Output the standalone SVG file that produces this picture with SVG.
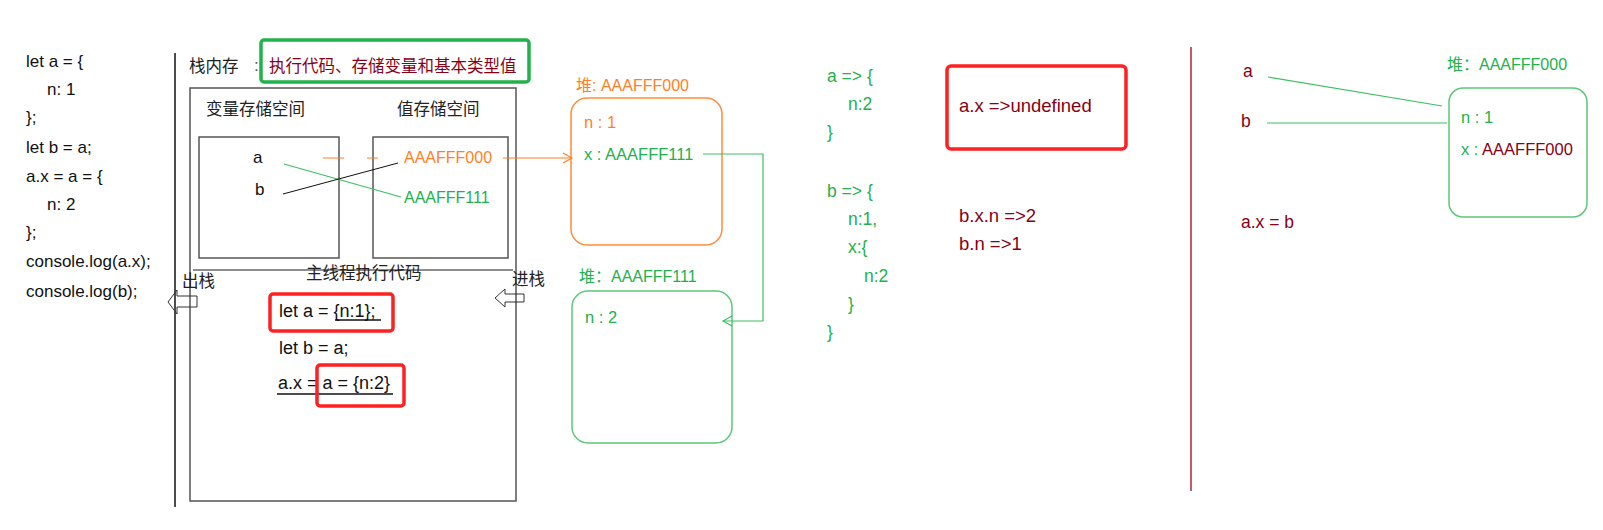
<svg xmlns="http://www.w3.org/2000/svg" width="1603" height="530" viewBox="0 0 1603 530">
<style>
text{font-family:"Liberation Sans","Noto Sans CJK SC",sans-serif;font-size:17px;fill:#111}
.cn{font-family:"Noto Sans CJK SC","Liberation Sans",sans-serif;font-size:16.5px;fill:#222}
.or{fill:#ff7f27}
.gr{fill:#22b14c}
.dr{fill:#880015}
.addr{font-size:16px}
.heap{font-size:16.5px}
.res{font-size:17.5px}
.ans{font-size:18.5px}
.code{font-size:18px}
.box{fill:none;stroke:#555;stroke-width:1.5}
.red{fill:none;stroke:#ff2020;stroke-width:3.5}
.heapO{fill:none;stroke:#ff8c3a;stroke-width:1.5}
.heapG{fill:none;stroke:#5cc878;stroke-width:1.5}
.gline{stroke:#3cbf60;stroke-width:1.2;fill:none}
.uline{stroke:#111;stroke-width:1.3}
</style>
<defs>
<marker id="openO" markerWidth="12" markerHeight="12" refX="10" refY="6" orient="auto" markerUnits="userSpaceOnUse">
<path d="M1,1 L10,6 L1,11" fill="none" stroke="#ff7f27" stroke-width="1.2"/>
</marker>
<marker id="openG" markerWidth="12" markerHeight="12" refX="10" refY="6" orient="auto" markerUnits="userSpaceOnUse">
<path d="M1,1 L10,6 L1,11" fill="none" stroke="#3cbf60" stroke-width="1.2"/>
</marker>
</defs>

<g id="source-code">
<text x="26" y="67">let a = {</text>
<text x="47" y="95">n: 1</text>
<text x="26" y="123">};</text>
<text x="26" y="153">let b = a;</text>
<text x="26" y="182">a.x = a = {</text>
<text x="47" y="210">n: 2</text>
<text x="26" y="238">};</text>
<text x="26" y="267">console.log(a.x);</text>
<text x="26" y="297">console.log(b);</text>
</g>

<g id="divider-left">
<line x1="175" y1="53" x2="175" y2="507" stroke="#111" stroke-width="1.5"/>
</g>

<g id="stack-memory">
<text class="cn" x="189" y="72">栈内存</text>
<text x="254" y="71" style="fill:#555">:</text>
<rect x="261" y="40" width="268" height="42" rx="3" fill="#fff" stroke="#22b14c" stroke-width="3.5"/>
<text class="cn" x="269" y="72" style="fill:#880015">执行代码、存储变量和基本类型值</text>
<rect class="box" x="190" y="88" width="326" height="413"/>
<text class="cn" x="206" y="115">变量存储空间</text>
<text class="cn" x="397" y="115">值存储空间</text>
</g>

<g id="var-space">
<rect class="box" x="199" y="137" width="140" height="121"/>
<text x="253" y="163">a</text>
<text x="255" y="195">b</text>
</g>

<g id="value-space">
<rect class="box" x="373" y="137" width="135" height="121"/>
<text class="or addr" x="404" y="163">AAAFFF000</text>
<text class="gr addr" x="404" y="203">AAAFFF111</text>
</g>

<g id="main-thread">
<line x1="193" y1="270" x2="513" y2="270" stroke="#666" stroke-width="1.5"/>
<text class="cn" x="306" y="279">主线程执行代码</text>
<text class="cn" x="182" y="287">出栈</text>
<polygon points="168,302 177,290 177,296 197,296 197,307 177,307 177,314" fill="none" stroke="#333" stroke-width="1"/>
<text class="cn" x="512" y="285">进栈</text>
<polygon points="495,298 505,289 505,294 524,294 524,302 505,302 505,307" fill="none" stroke="#333" stroke-width="1"/>
<rect class="red" x="270" y="294" width="123" height="37" rx="3"/>
<text class="code" x="279" y="317">let a = {n:1};</text>
<line class="uline" x1="335" y1="320" x2="381" y2="320"/>
<text class="code" x="279" y="354">let b = a;</text>
<text class="code" x="278" y="389">a.x = a = {n:2}</text>
<line class="uline" x1="277" y1="394" x2="393" y2="394"/>
<rect class="red" x="317" y="365" width="87" height="41" rx="3"/>
</g>

<g id="heap-000">
<text class="or addr" x="576" y="91">堆: AAAFFF000</text>
<rect class="heapO" x="571" y="98" width="151" height="147" rx="16"/>
<text class="or heap" x="584" y="128">n : 1</text>
<text class="gr heap" x="584" y="160">x : AAAFFF111</text>
</g>

<g id="heap-111">
<text class="gr addr" x="579" y="282">堆：AAAFFF111</text>
<rect class="heapG" x="572" y="291" width="160" height="152" rx="16"/>
<text class="gr heap" x="585" y="323">n : 2</text>
</g>

<g id="result-a">
<text class="gr res" x="827" y="82">a =&gt; {</text>
<text class="gr res" x="848" y="110">n:2</text>
<text class="gr res" x="827" y="138">}</text>
</g>

<g id="result-b">
<text class="gr res" x="827" y="197">b =&gt; {</text>
<text class="gr res" x="848" y="225">n:1,</text>
<text class="gr res" x="848" y="253">x:{</text>
<text class="gr res" x="864" y="282">n:2</text>
<text class="gr res" x="848" y="310">}</text>
<text class="gr res" x="827" y="338">}</text>
</g>

<g id="answer-ax">
<rect class="red" x="947" y="66" width="179" height="83" rx="4"/>
<text class="dr ans" x="959" y="112">a.x =&gt;undefined</text>
</g>

<g id="answer-b">
<text class="dr ans" x="959" y="222">b.x.n =&gt;2</text>
<text class="dr ans" x="959" y="250">b.n =&gt;1</text>
</g>

<g id="divider-right">
<line x1="1191" y1="47" x2="1191" y2="491" stroke="#a8283c" stroke-width="1.5"/>
</g>

<g id="right-vars">
<text class="dr res" x="1243" y="77">a</text>
<text class="dr res" x="1241" y="127">b</text>
<text class="dr res" x="1241" y="228">a.x = b</text>
</g>

<g id="right-heap">
<text class="gr addr" x="1447" y="70">堆：AAAFFF000</text>
<rect class="heapG" x="1449" y="88" width="138" height="129" rx="14"/>
<text class="gr heap" x="1461" y="123">n : 1</text>
<text class="heap" x="1461" y="155"><tspan class="gr">x : </tspan><tspan class="dr">AAAFFF000</tspan></text>
</g>

<g id="connectors">
<line x1="284" y1="164" x2="401" y2="197" class="gline"/>
<line x1="283" y1="194" x2="398" y2="163" stroke="#111" stroke-width="1"/>
<line x1="323" y1="158" x2="344" y2="158" stroke="#ff7f27" stroke-width="1"/>
<line x1="367" y1="158" x2="378" y2="158" stroke="#ff7f27" stroke-width="1"/>
<line x1="503" y1="158" x2="572" y2="158" stroke="#ff7f27" stroke-width="1.2" marker-end="url(#openO)"/>
<polyline points="703,154 763,154 763,321 723,321" class="gline" marker-end="url(#openG)"/>
<line x1="1268" y1="77" x2="1442" y2="106" class="gline"/>
<line x1="1267" y1="123" x2="1447" y2="123" class="gline"/>
</g>
</svg>
